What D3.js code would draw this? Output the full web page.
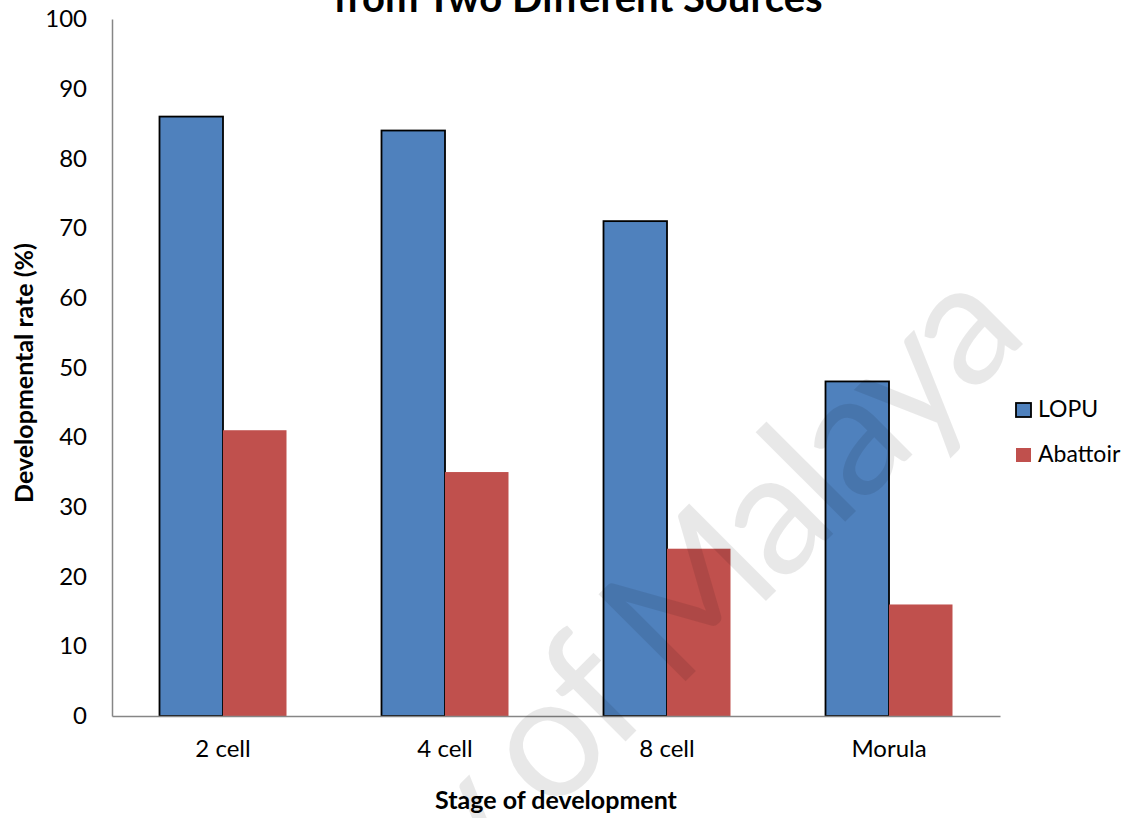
<!DOCTYPE html>
<html>
<head>
<meta charset="utf-8">
<script src="https://cdn.jsdelivr.net/npm/d3@7"></script>
<style>
  html, body { margin: 0; padding: 0; background: #fff; }
  svg { display: block; }
  text { font-family: Lato, "Noto Sans", sans-serif; }
</style>
</head>
<body>
<svg id="chart" width="1140" height="818"></svg>
<script>
const categories = ["2 cell", "4 cell", "8 cell", "Morula"];
const seriesNames = ["LOPU", "Abattoir"];
const lopuValues = [86, 84, 71, 48];
const abattoirValues = [41, 35, 24, 16];
const yTicks = [0, 10, 20, 30, 40, 50, 60, 70, 80, 90, 100];
const titleText = "from Two Different Sources";
const xTitle = "Stage of development";
const yTitle = "Developmental rate (%)";
const watermarkText = "University of Malaya";

const colors = { LOPU: "#4F81BD", Abattoir: "#C0504D" };
const svg = d3.select("#chart");

const plot = { left: 112, right: 1000, top: 19, bottom: 716 };

const x0 = d3.scaleBand().domain(categories).range([plot.left, plot.right]).paddingInner(0).paddingOuter(0);
const x1 = d3.scaleBand().domain(seriesNames).range([0, x0.bandwidth()]).paddingInner(0).paddingOuter(0.748);
const y = d3.scaleLinear().domain([0, 100]).range([plot.bottom, plot.top]);

const data = categories.map((c, i) => ({ cat: c, values: [
  { key: "LOPU", value: lopuValues[i] },
  { key: "Abattoir", value: abattoirValues[i] }
]}));

// Title (partly cut off at top, as in the reference)
svg.append("text")
  .attr("x", 578).attr("y", 12)
  .attr("text-anchor", "middle")
  .attr("font-weight", "bold")
  .attr("font-size", 40)
  .attr("fill", "#000")
  .text(titleText);

// Bars
const groups = svg.append("g").selectAll("g").data(data).join("g")
  .attr("transform", d => `translate(${x0(d.cat)},0)`);
groups.selectAll("rect").data(d => d.values).join("rect")
  .attr("x", d => x1(d.key))
  .attr("y", d => y(d.value))
  .attr("width", x1.bandwidth())
  .attr("height", d => y(0) - y(d.value))
  .attr("fill", d => colors[d.key])
  .attr("stroke", d => d.key === "LOPU" ? "#000" : "none")
  .attr("stroke-width", 1.8);

// Y axis
const yAxis = d3.axisLeft(y).tickValues(yTicks).tickSize(0).tickPadding(25);
const yg = svg.append("g").attr("transform", `translate(${plot.left},0)`).call(yAxis);
yg.select(".domain").attr("stroke", "#868686").attr("stroke-width", 1.5);
yg.selectAll("text").attr("font-size", 24).attr("fill", "#000").attr("font-family", "Lato, sans-serif");

// X axis
const xAxis = d3.axisBottom(x0).tickSize(0).tickPadding(24);
const xg = svg.append("g").attr("transform", `translate(0,${plot.bottom})`).call(xAxis);
xg.select(".domain").attr("stroke", "#868686").attr("stroke-width", 1.5);
xg.selectAll("text").attr("font-size", 24).attr("fill", "#000").attr("font-family", "Lato, sans-serif");

// Axis titles
svg.append("text")
  .attr("x", 556).attr("y", 809)
  .attr("text-anchor", "middle")
  .attr("font-weight", "bold").attr("font-size", 25)
  .text(xTitle);

svg.append("text")
  .attr("transform", `translate(33,373) rotate(-90)`)
  .attr("text-anchor", "middle")
  .attr("font-weight", "bold").attr("font-size", 25)
  .text(yTitle);

// Legend
const legend = svg.append("g");
seriesNames.forEach((s, i) => {
  const ly = 403 + i * 45;
  legend.append("rect")
    .attr("x", 1016).attr("y", ly)
    .attr("width", 15).attr("height", 14)
    .attr("fill", colors[s])
    .attr("stroke", s === "LOPU" ? "#000" : "none")
    .attr("stroke-width", 1.8);
  legend.append("text")
    .attr("x", 1038).attr("y", ly + 14)
    .attr("font-size", 23)
    .text(s);
});

// Watermark
svg.append("text")
  .attr("transform", "translate(1026,341) rotate(-45)")
  .attr("text-anchor", "end")
  .attr("font-size", 172)
  .attr("letter-spacing", -7)
  .attr("fill", "#000")
  .attr("fill-opacity", 0.09)
  .text(watermarkText);
</script>
</body>
</html>
